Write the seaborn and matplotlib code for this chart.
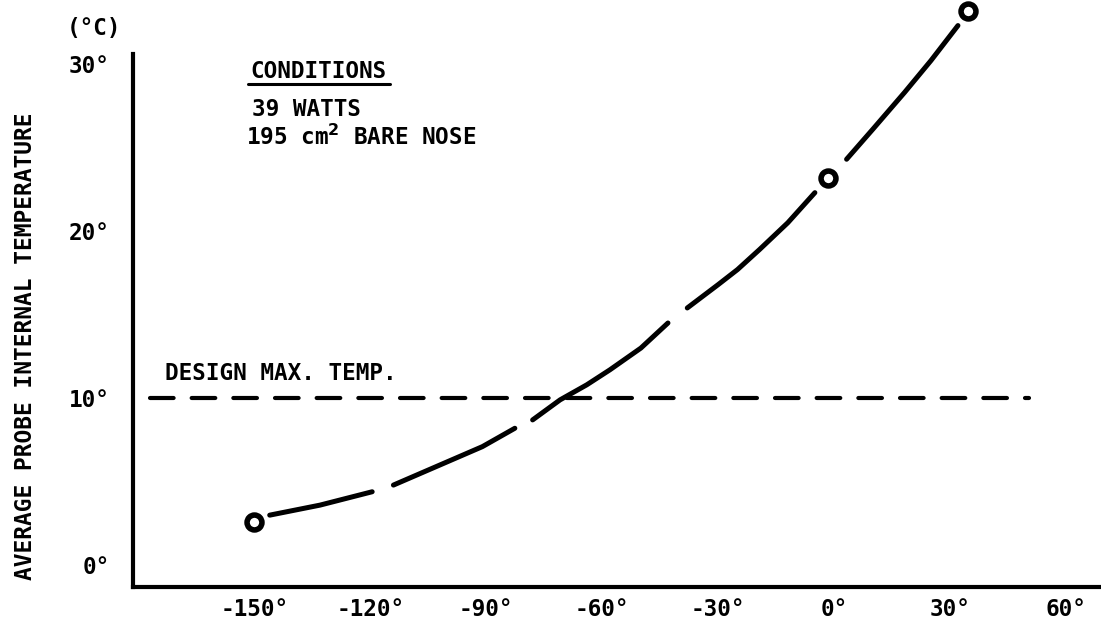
import matplotlib
matplotlib.use("Agg")
import matplotlib.pyplot as plt
import seaborn as sns
import pandas as pd

# ---- data ----
points_x = [-150, -1.7, 34.5]
points_y = [2.6, 23.2, 33.2]

seg1_x = [-146, -133, -119.5]
seg1_y = [3.0, 3.6, 4.4]
seg2_x = [-114, -107, -100, -91, -82.6]
seg2_y = [4.8, 5.5, 6.2, 7.1, 8.2]
seg3_x = [-78, -70.9, -64, -58, -50, -43]
seg3_y = [8.7, 9.9, 10.8, 11.7, 13.0, 14.5]
seg4_x = [-38, -30, -25, -19.3, -12, -5]
seg4_y = [15.4, 16.8, 17.7, 18.9, 20.5, 22.3]
seg5_x = [3.2, 10, 18.2, 25, 32]
seg5_y = [24.3, 26.1, 28.3, 30.2, 32.3]

design_max_x = [-177, 50.5]
design_max_y = [10, 10]

x_ticks = [-150, -120, -90, -60, -30, 0, 30, 60]
x_tick_labels = ['-150°', '-120°', '-90°', '-60°', '-30°', '0°', '30°', '60°']
y_ticks = [0, 10, 20, 30]
y_tick_labels = ['0°', '10°', '20°', '30°']

# ---- style ----
sns.set_theme(style="white")
plt.rcParams['font.family'] = ['DejaVu Sans Mono', 'DejaVu Sans']
plt.rcParams['font.weight'] = 'bold'
plt.rcParams['text.color'] = 'black'
plt.rcParams['xtick.color'] = 'black'
plt.rcParams['ytick.color'] = 'black'
plt.rcParams['lines.scale_dashes'] = False

FS = 16.3

fig = plt.figure(figsize=(11.01, 6.32), dpi=100)
ax = fig.add_axes([0.121, 0.0712, 0.879, 0.928])

segs = [(seg1_x, seg1_y), (seg2_x, seg2_y), (seg3_x, seg3_y), (seg4_x, seg4_y), (seg5_x, seg5_y)]
rows = []
for i, (sx, sy) in enumerate(segs):
    for a, b in zip(sx, sy):
        rows.append({'x': a, 'y': b, 'seg': i})
curve = pd.DataFrame(rows)

sns.lineplot(data=curve, x='x', y='y', units='seg', estimator=None, sort=False,
             color='black', linewidth=3.6, ax=ax, solid_capstyle='round',
             solid_joinstyle='round')

dm = pd.DataFrame({'x': design_max_x, 'y': design_max_y})
sns.lineplot(data=dm, x='x', y='y', color='black', linewidth=3.0, ax=ax,
             linestyle=(0, (17, 13)), dash_capstyle='round')

pts = pd.DataFrame({'x': points_x, 'y': points_y})
sns.scatterplot(data=pts, x='x', y='y', s=115, facecolor='white', edgecolor='black',
                linewidth=4.0, ax=ax, clip_on=False, zorder=5)

ax.set_xlim(-181.3, 69)
ax.set_ylim(-1.3, 33.8)
ax.set_xlabel('')
ax.set_ylabel('')

for s in ['top', 'right']:
    ax.spines[s].set_visible(False)
for s in ['left', 'bottom']:
    ax.spines[s].set_linewidth(3)
    ax.spines[s].set_color('black')
ax.spines['left'].set_bounds(-1.3, 30.6)

ax.set_xticks(x_ticks)
ax.set_xticklabels(x_tick_labels, fontsize=FS, fontweight='bold', color='black')
ax.set_yticks(y_ticks)
ax.set_yticklabels(y_tick_labels, fontsize=FS, fontweight='bold', color='black')
ax.tick_params(axis='both', direction='in', length=5, width=2, color='black')
ax.tick_params(axis='x', pad=8)
ax.tick_params(axis='y', pad=17)

# texts
fig.text(94 / 1101, 1 - 28 / 632, '(°C)', ha='center', va='center', fontsize=FS, fontweight='bold')
fig.text(26 / 1101, 1 - 346 / 632, 'AVERAGE PROBE INTERNAL TEMPERATURE', rotation=90,
         ha='center', va='center', fontsize=16.5, fontweight='bold')
fig.text(250 / 1101, 1 - 71 / 632, 'CONDITIONS', ha='left', va='center', fontsize=FS, fontweight='bold')
fig.add_artist(plt.Line2D([248 / 1101, 390 / 1101], [1 - 84 / 632, 1 - 84 / 632], color='black', linewidth=2.2))
fig.text(252 / 1101, 1 - 110 / 632, '39 WATTS', ha='left', va='center', fontsize=FS, fontweight='bold')
fig.text(246 / 1101, 1 - 137 / 632, '195 cm$^{\\mathbf{2}}$ BARE NOSE', ha='left', va='center', fontsize=FS, fontweight='bold')
fig.text(165 / 1101, 1 - 373 / 632, 'DESIGN MAX. TEMP.', ha='left', va='center', fontsize=FS, fontweight='bold')

fig.savefig('out.png', dpi=100, facecolor='white')
